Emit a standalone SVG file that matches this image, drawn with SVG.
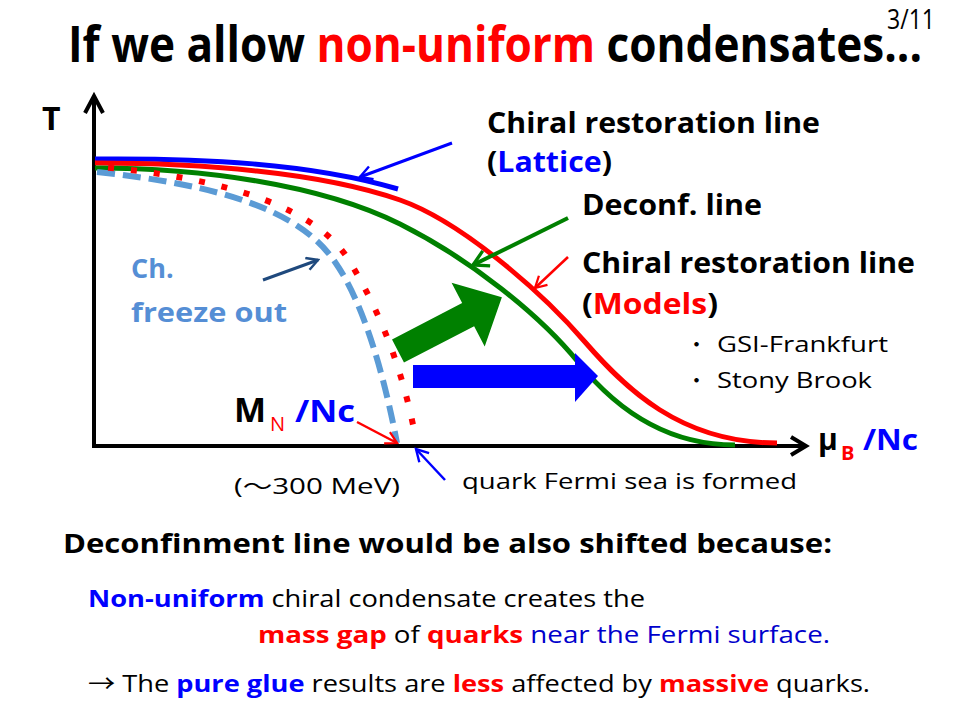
<svg xmlns="http://www.w3.org/2000/svg" width="960" height="720" viewBox="0 0 960 720">
<defs>
<style>
text{font-family:"Open Sans","Noto Sans","Noto Sans CJK JP",sans-serif;fill:#000}
.b{font-weight:bold}
.red{fill:#ff0000}
.blue{fill:#0000ff}
.nblue{fill:#0000cc}
.lblue{fill:#558ed5}
.curve{fill:none;stroke-width:5;stroke-linecap:butt}
.ptr{fill:none}
</style>
<marker id="mBlue" viewBox="0 0 12 12" refX="10" refY="6" markerWidth="16" markerHeight="16" markerUnits="userSpaceOnUse" orient="auto"><path d="M1,1 L10,6 L1,11" fill="none" stroke="#0000ff" stroke-width="1.8"/></marker>
<marker id="mGreen" viewBox="0 0 12 12" refX="10" refY="6" markerWidth="20" markerHeight="20" markerUnits="userSpaceOnUse" orient="auto"><path d="M1,1 L10,6 L1,11" fill="none" stroke="#008000" stroke-width="2"/></marker>
<marker id="mRed" viewBox="0 0 12 12" refX="10" refY="6" markerWidth="15" markerHeight="15" markerUnits="userSpaceOnUse" orient="auto"><path d="M1,1 L10,6 L1,11" fill="none" stroke="#ff0000" stroke-width="1.8"/></marker>
<marker id="mDark" viewBox="0 0 12 12" refX="10" refY="6" markerWidth="15" markerHeight="15" markerUnits="userSpaceOnUse" orient="auto"><path d="M1,1 L10,6 L1,11" fill="none" stroke="#1f497d" stroke-width="2"/></marker>
</defs>
<rect width="960" height="720" fill="#ffffff"/>

<g id="title">
<text x="68" y="62" class="b" font-size="51" textLength="854" lengthAdjust="spacingAndGlyphs">If we allow <tspan class="red">non-uniform</tspan> condensates...</text>
<text x="887" y="29" font-size="27" textLength="48" lengthAdjust="spacingAndGlyphs">3/11</text>
</g>

<g id="axes">
<line x1="94" y1="96" x2="94" y2="448" stroke="#000" stroke-width="4"/>
<line x1="92" y1="446" x2="805" y2="446" stroke="#000" stroke-width="4"/>
<path d="M85,113 L94,96 L103,113" fill="none" stroke="#000" stroke-width="4"/>
<path d="M791,437 L806,446 L791,455" fill="none" stroke="#000" stroke-width="4"/>
<text x="42" y="130" class="b" font-size="32">T</text>
<text x="818" y="450" class="b" font-size="30">μ</text>
<text x="841" y="460" class="b red" font-size="20">B</text>
<text x="863" y="450" class="b blue" font-size="28" textLength="55" lengthAdjust="spacingAndGlyphs">/Nc</text>
</g>

<g id="lattice-line">
<path class="curve" d="M95,159 C200,158 310,163 398,189" stroke="#0000ff"/>
</g>
<g id="models-line">
<path class="curve" stroke="#ff0000" d="M95,163 C200,163 320,172 400,200 C460,221 540,290 585,342 C625,388 680,443 777,443"/>
</g>
<g id="deconf-line">
<path class="curve" stroke="#008000" d="M95,168 C200,168 320,184 400,224 C470,259 540,315 578,362 C610,402 660,445 735,445"/>
</g>
<g id="freeze-out-line">
<path d="M97,172 C220,185 300,210 335,262 C365,305 385,380 397,443" fill="none" stroke="#5b9bd5" stroke-width="6" stroke-dasharray="18 8"/>
</g>
<g id="fermi-line">
<path d="M100,167 C230,178 320,210 350,262 C385,320 405,380 416,440" fill="none" stroke="#ff0000" stroke-width="6" stroke-dasharray="6 17" stroke-dashoffset="-8"/>
</g>

<g id="shift-arrows">
<polygon points="0,-13 79,-13 79,-36 117,0 79,36 79,13 0,13" fill="#008000" transform="translate(398,351) rotate(-27.4)"/>
<polygon points="413,365 575,365 575,353 598,376 575,402 575,388 413,388" fill="#0000ff"/>
</g>

<g id="connectors">
<line class="ptr" x1="452" y1="143" x2="360" y2="177" stroke="#0000ff" stroke-width="3" marker-end="url(#mBlue)"/>
<line class="ptr" x1="568" y1="218" x2="473" y2="265" stroke="#008000" stroke-width="4" marker-end="url(#mGreen)"/>
<line class="ptr" x1="568" y1="257" x2="535" y2="288" stroke="#ff0000" stroke-width="2.5" marker-end="url(#mRed)"/>
<line class="ptr" x1="263" y1="280" x2="318" y2="260" stroke="#1f497d" stroke-width="3" marker-end="url(#mDark)"/>
<line class="ptr" x1="357" y1="422" x2="397" y2="443" stroke="#ff0000" stroke-width="2.5" marker-end="url(#mRed)"/>
<line class="ptr" x1="445" y1="480" x2="416" y2="449" stroke="#0000ff" stroke-width="2.5" marker-end="url(#mBlue)"/>
</g>

<g id="lattice-label">
<text x="487" y="133" class="b" font-size="28" textLength="333" lengthAdjust="spacingAndGlyphs">Chiral restoration line</text>
<text x="487" y="172" class="b" font-size="28" textLength="125" lengthAdjust="spacingAndGlyphs">(<tspan class="blue">Lattice</tspan>)</text>
</g>
<g id="deconf-label">
<text x="582" y="215" class="b" font-size="28" textLength="180" lengthAdjust="spacingAndGlyphs">Deconf. line</text>
</g>
<g id="models-label">
<text x="582" y="273" class="b" font-size="28" textLength="333" lengthAdjust="spacingAndGlyphs">Chiral restoration line</text>
<text x="582" y="314" class="b" font-size="28" textLength="136" lengthAdjust="spacingAndGlyphs">(<tspan class="red">Models</tspan>)</text>
<text x="686" y="352" font-size="21">・</text>
<text x="717" y="352" font-size="21" textLength="171" lengthAdjust="spacingAndGlyphs">GSI-Frankfurt</text>
<text x="686" y="388" font-size="21">・</text>
<text x="717" y="388" font-size="21" textLength="155" lengthAdjust="spacingAndGlyphs">Stony Brook</text>
</g>
<g id="freeze-label">
<text x="131" y="278" class="b lblue" font-size="27">Ch.</text>
<text x="131" y="322" class="b lblue" font-size="27" textLength="156" lengthAdjust="spacingAndGlyphs">freeze out</text>
</g>
<g id="mn-label">
<text x="234" y="422" class="b" font-size="34">M</text>
<text x="270" y="431" class="red" font-size="20">N</text>
<text x="295" y="422" class="b blue" font-size="31" textLength="60" lengthAdjust="spacingAndGlyphs">/Nc</text>
<text x="234" y="494" font-size="22" textLength="166" lengthAdjust="spacingAndGlyphs">(〜300 MeV)</text>
</g>
<g id="fermi-label">
<text x="462" y="489" font-size="22" textLength="335" lengthAdjust="spacingAndGlyphs">quark Fermi sea is formed</text>
</g>

<g id="explanation">
<text x="63" y="553" class="b" font-size="27" textLength="769" lengthAdjust="spacingAndGlyphs">Deconfinment line would be also shifted because:</text>
<text x="88" y="607" font-size="24" textLength="557" lengthAdjust="spacingAndGlyphs"><tspan class="b blue">Non-uniform</tspan> chiral condensate creates the</text>
<text x="258" y="643" font-size="24" textLength="572" lengthAdjust="spacingAndGlyphs"><tspan class="b red">mass gap</tspan> of <tspan class="b red">quarks</tspan> <tspan class="nblue">near the Fermi surface.</tspan></text>
<text x="88" y="692" font-size="24" textLength="782" lengthAdjust="spacingAndGlyphs">→ The <tspan class="b blue">pure glue</tspan> results are <tspan class="b red">less</tspan> affected by <tspan class="b red">massive</tspan> quarks.</text>
</g>
</svg>
